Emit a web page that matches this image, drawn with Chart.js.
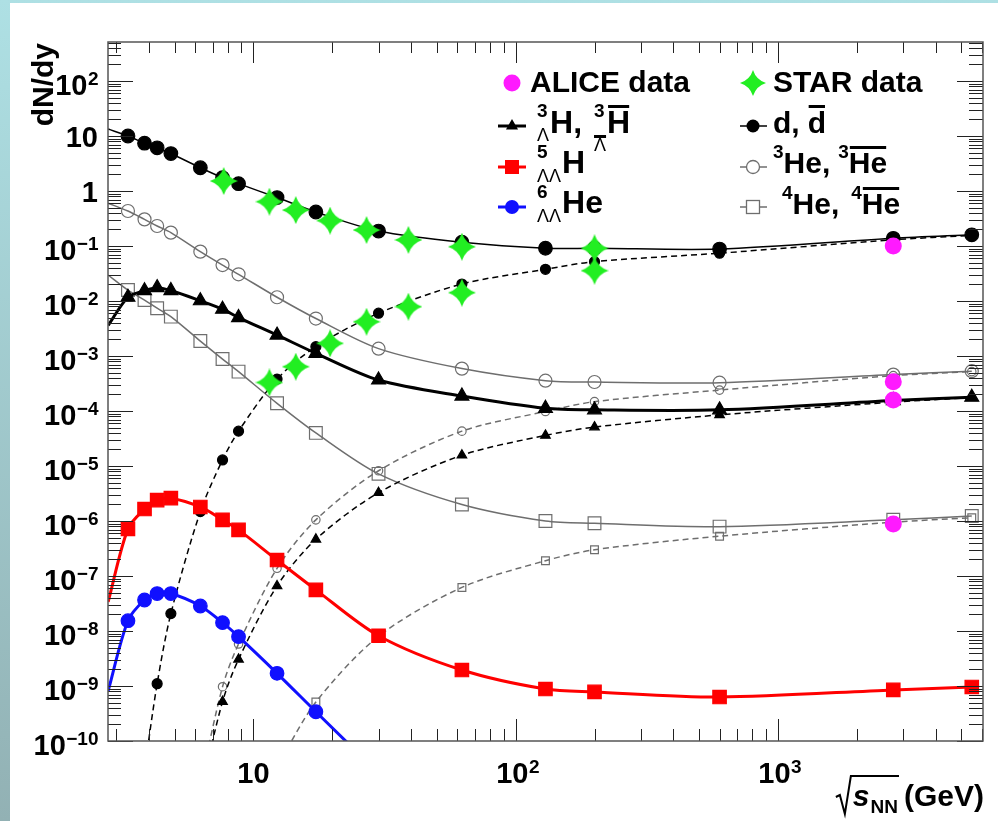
<!DOCTYPE html>
<html><head><meta charset="utf-8">
<script src="https://cdn.jsdelivr.net/npm/chart.js@4/dist/chart.umd.min.js"></script>
<style>
html,body{margin:0;padding:0;}
body{width:998px;height:821px;overflow:hidden;position:relative;background:linear-gradient(to bottom,#aee0e4,#92b1b4);}
#wrap{position:absolute;left:10px;top:3px;width:988px;height:818px;background:#fff;}
#c{position:absolute;left:0;top:0;}
</style></head>
<body><div id="wrap"></div><canvas id="c" width="998" height="821" style="width:998px;height:821px"></canvas>
<script>
// ---------------- data ----------------
const energies = [2.79, 3.32, 3.84, 4.29, 4.84, 6.27, 7.62, 8.77, 12.3, 17.3, 30, 62.4, 130, 200, 600, 2760, 5500];
const dYield      = [13.4, 10, 7.4, 6.1, 4.8, 2.65, 1.75, 1.36, 0.76, 0.415, 0.187, 0.117, 0.091, 0.091, 0.088, 0.138, 0.16];
const antiDYield  = [null, null, 3e-11, 1.1e-9, 2.07e-8, 1.48e-6, 1.29e-5, 4.3e-5, 3.8e-4, 1.48e-3, 6.0e-3, 0.0204, 0.0377, 0.052, 0.074, 0.13, 0.155];
const he3Yield    = [0.6, 0.433, 0.305, 0.231, 0.175, 0.079, 0.045, 0.0306, 0.0117, 4.8e-3, 1.36e-3, 5.9e-4, 3.56e-4, 3.37e-4, 3.27e-4, 4.6e-4, 5.3e-4];
const antiHe3Yield= [null, null, null, null, null, 1.6e-11, 9.7e-10, 5.8e-9, 1.38e-7, 1.05e-6, 8.2e-6, 4.3e-5, 9.8e-5, 1.48e-4, 2.4e-4, 4.4e-4, 5.2e-4];
const h3lYield    = [3.6e-3, 0.0117, 0.0154, 0.0175, 0.0155, 0.0101, 7.1e-3, 5.0e-3, 2.4e-3, 1.12e-3, 3.66e-4, 1.87e-4, 1.12e-4, 1.05e-4, 1.05e-4, 1.55e-4, 1.78e-4];
const antiH3lYield= [null, null, null, null, null, 1.1e-11, 5.2e-10, 3.05e-9, 6.6e-8, 4.65e-7, 3.27e-6, 1.57e-5, 3.6e-5, 5.1e-5, 8.5e-5, 1.45e-4, 1.75e-4];
const he4Yield    = [0.0297, 0.0158, 0.0104, 7.4e-3, 5.2e-3, 1.87e-3, 8.8e-4, 5.2e-4, 1.38e-4, 4.0e-5, 7.2e-6, 2.0e-6, 1.0e-6, 9.1e-7, 7.9e-7, 1.05e-6, 1.23e-6];
const antiHe4Yield= [null, null, null, null, null, null, null, null, 3.4e-11, 5.1e-10, 8e-9, 6.2e-8, 1.9e-7, 3.0e-7, 5.3e-7, 9.5e-7, 1.15e-6];
const h5llYield   = [3.4e-8, 7.2e-7, 1.65e-6, 2.4e-6, 2.6e-6, 1.8e-6, 1.05e-6, 6.9e-7, 1.95e-7, 5.6e-8, 8.2e-9, 1.95e-9, 8.8e-10, 7.8e-10, 6.3e-10, 8.5e-10, 9.6e-10];
const he6llYield  = [8.2e-10, 1.54e-8, 3.66e-8, 4.8e-8, 4.8e-8, 2.85e-8, 1.42e-8, 7.9e-9, 1.7e-9, 3.4e-10, 2.6e-11, null, null, null, null, null, null];

const starEnergies = [7.7, 11.5, 14.5, 19.6, 27, 39, 62.4, 200];
const starD        = [1.52, 0.64, 0.45, 0.29, 0.195, 0.129, 0.097, 0.091];
const starAntiD    = [null, 3.3e-4, 6.4e-4, 1.7e-3, 4.2e-3, 7.9e-3, 0.0142, 0.0356];

const aliceEnergies = [2760, 2760, 2760, 2760];
const aliceYield    = [0.1, 3.4e-4, 1.58e-4, 8.8e-7];

const xTickDecades = [1, 2, 3];
const yTickDecades = [2, 1, 0, -1, -2, -3, -4, -5, -6, -7, -8, -9, -10];

// ---------------- helpers ----------------
const FONT = '"Liberation Sans", Arial, Helvetica, sans-serif';
function pts(xs, ys){ const o=[]; xs.forEach((x,i)=>{ if(ys[i]!=null) o.push({x:x,y:ys[i]}); }); return o; }
function makeStar(size, color){
  const c=document.createElement('canvas'); c.width=c.height=size;
  const g=c.getContext('2d'); const r=size/2, k=r*0.24;
  g.beginPath();
  g.moveTo(r, 0);
  g.quadraticCurveTo(r+k, r-k, size, r);
  g.quadraticCurveTo(r+k, r+k, r, size);
  g.quadraticCurveTo(r-k, r+k, 0, r);
  g.quadraticCurveTo(r-k, r-k, r, 0);
  g.closePath(); g.fillStyle=color; g.fill();
  return c;
}
const starImg = makeStar(28, '#22ee22');
const starImgLeg = makeStar(26, '#22ee22');
const edgeR = (r)=> (c)=> (c.raw && c.raw.x <= energies[0]) ? 0 : r;
const GRAY = '#6e6e6e';

function ds(label, ys, o){
  return Object.assign({label, data: pts(energies, ys), showLine:true, clip:0, tension:0.3,
    borderWidth:1.5, pointBorderWidth:1.2}, o);
}

const datasets = [
  {label:'ALICE data', data: pts(aliceEnergies, aliceYield), showLine:false, clip:0, order:0,
   pointStyle:'circle', pointRadius:8.5, backgroundColor:'#ff1aff', borderColor:'#ff1aff', pointBorderWidth:0},
  {label:'STAR d', data: pts(starEnergies, starD), showLine:false, clip:0, order:1, pointStyle:starImg, pointRadius:14},
  {label:'STAR anti-d', data: pts(starEnergies, starAntiD), showLine:false, clip:0, order:1, pointStyle:starImg, pointRadius:14},
  ds('d', dYield, {order:3, borderColor:'#000', backgroundColor:'#000', pointRadius:edgeR(6.8), pointStyle:'circle'}),
  ds('anti-d', antiDYield, {order:4, borderColor:'#000', backgroundColor:'#000', borderDash:[6,4], pointRadius:5, pointStyle:'circle'}),
  ds('3He', he3Yield, {order:5, borderColor:GRAY, backgroundColor:'rgba(0,0,0,0)', pointBorderColor:GRAY, pointRadius:edgeR(6.5), pointStyle:'circle'}),
  ds('anti-3He', antiHe3Yield, {order:6, borderColor:GRAY, backgroundColor:'rgba(0,0,0,0)', pointBorderColor:GRAY, borderDash:[6,4], pointRadius:4.2, pointStyle:'circle'}),
  ds('H3L', h3lYield, {order:3, borderColor:'#000', backgroundColor:'#000', borderWidth:3, pointRadius:edgeR(8), pointStyle:'triangle'}),
  ds('anti-H3L', antiH3lYield, {order:4, borderColor:'#000', backgroundColor:'#000', borderDash:[6,4], pointRadius:5.5, pointStyle:'triangle'}),
  ds('4He', he4Yield, {order:5, borderColor:GRAY, backgroundColor:'rgba(0,0,0,0)', pointBorderColor:GRAY, pointRadius:edgeR(9), pointStyle:'rect'}),
  ds('anti-4He', antiHe4Yield, {order:6, borderColor:GRAY, backgroundColor:'rgba(0,0,0,0)', pointBorderColor:GRAY, borderDash:[6,4], pointRadius:5.5, pointStyle:'rect'}),
  ds('5LLH', h5llYield, {order:2, borderColor:'#ff0000', backgroundColor:'#ff0000', borderWidth:3, pointRadius:edgeR(9.5), pointStyle:'rect'}),
  ds('6LLHe', he6llYield, {order:2, borderColor:'#1010ff', backgroundColor:'#1010ff', borderWidth:3, pointRadius:edgeR(6.8), pointStyle:'circle'})
];

// ---------------- drawing helpers ----------------
function line(ctx,x1,y1,x2,y2){ ctx.beginPath(); ctx.moveTo(x1,y1); ctx.lineTo(x2,y2); ctx.stroke(); }
function powLabel(ctx, e, x, yb, align){
  let base, sup=null;
  if(e===0) base='1'; else if(e===1) base='10'; else { base='10'; sup = (e<0?'\u2212':'')+Math.abs(e); }
  ctx.font='bold 29px '+FONT; const wb=ctx.measureText(base).width;
  ctx.font='bold 19px '+FONT; const ws= sup? ctx.measureText(sup).width : 0;
  const w = wb+ws;
  let x0 = align==='right' ? x-w : x-w/2;
  ctx.textAlign='left'; ctx.textBaseline='alphabetic';
  ctx.font='bold 29px '+FONT; ctx.fillText(base, x0, yb);
  if(sup){ ctx.font='bold 19px '+FONT; ctx.fillText(sup, x0+wb+0.5, yb-10); }
}
function rich(ctx, x, yb, items){
  let cx=x;
  ctx.textAlign='left'; ctx.textBaseline='alphabetic'; ctx.fillStyle='#000'; ctx.strokeStyle='#000';
  for(const it of items){
    if(it.gap){ cx+=it.gap; continue; }
    if(it.sup!==undefined){
      ctx.font='bold 19px '+FONT; const w1=ctx.measureText(it.sup).width;
      ctx.fillText(it.sup, cx, yb-(it.supDy||17));
      ctx.font='18px '+FONT; const w2=ctx.measureText(it.sub).width;
      const sdy = it.subDy||8;
      ctx.fillText(it.sub, cx, yb+sdy);
      if(it.subOl){ ctx.fillRect(cx, yb+sdy-16, w2, 3); }
      cx += Math.max(w1,w2)+ (it.after||1);
      continue;
    }
    ctx.font=(it.italic?'italic ':'')+'bold '+(it.s||30)+'px '+FONT;
    const w=ctx.measureText(it.t).width;
    ctx.fillText(it.t, cx, yb+(it.dy||0));
    if(it.ol){ ctx.fillRect(cx+1, yb-(it.olH||27), w-2, 3); }
    cx+=w;
  }
  return cx;
}

const rootPlugin = {
  id:'rootStyle',
  afterDatasetsDraw(chart){
    const {ctx, chartArea:a, scales:{x,y}} = chart;
    ctx.save();
    ctx.strokeStyle='#222'; ctx.lineWidth=1;
    for(let e=0;e<=4;e++) for(let k=1;k<=9;k++){
      const v=k*Math.pow(10,e); if(v<x.min||v>x.max) continue;
      const px=Math.round(x.getPixelForValue(v))+0.5, maj=(k===1);
      line(ctx,px,a.bottom,px,a.bottom-(maj?22:12));
      line(ctx,px,a.top,px,a.top+(maj?21:11));
    }
    for(let e=-10;e<=2;e++) for(let k=1;k<=9;k++){
      const v=k*Math.pow(10,e); if(v<y.min*0.999||v>y.max) continue;
      const py=Math.round(y.getPixelForValue(v))+0.5, maj=(k===1);
      line(ctx,a.left,py,a.left+(maj?25:13),py);
      line(ctx,a.right,py,a.right-(maj?26:14),py);
    }
    ctx.strokeStyle='#555'; ctx.lineWidth=1.5;
    ctx.strokeRect(a.left,a.top,a.right-a.left,a.bottom-a.top);
    ctx.restore();
  },
  afterDraw(chart){
    const {ctx, chartArea:a, scales:{x,y}} = chart;
    ctx.save(); ctx.fillStyle='#000';
    yTickDecades.forEach(e=>{
      const py=y.getPixelForValue(Math.pow(10,e));
      powLabel(ctx, e, 98, py + (e===0||e===1 ? 11 : 13.5), 'right');
    });
    xTickDecades.forEach(e=>{
      const px=x.getPixelForValue(Math.pow(10,e));
      powLabel(ctx, e, px + (e===1?0:2), 783, 'center');
    });
    ctx.save(); ctx.translate(53, 43); ctx.rotate(-Math.PI/2);
    ctx.font='bold 30px '+FONT; ctx.textAlign='right'; ctx.textBaseline='alphabetic';
    ctx.fillText('dN/dy', 0, 0); ctx.restore();
    ctx.font='bold 30px '+FONT; const wG=ctx.measureText('(GeV)').width;
    ctx.font='bold 19px '+FONT; const wNN=ctx.measureText('NN').width;
    ctx.font='italic bold 30px '+FONT; const wS=ctx.measureText('s').width;
    const xb=806, xr=a.right+1;
    const xG = xr - wG, xNN = xG - 6 - wNN, xS = xNN - wS - 1, xR = xS - 14;
    ctx.textAlign='left';
    ctx.font='bold 30px '+FONT; ctx.fillText('(GeV)', xG, xb);
    ctx.font='bold 19px '+FONT; ctx.fillText('NN', xNN, xb+7);
    ctx.font='italic bold 30px '+FONT; ctx.fillText('s', xS, xb);
    ctx.strokeStyle='#000'; ctx.lineWidth=2; ctx.lineJoin='miter';
    ctx.beginPath(); ctx.moveTo(xR-3, xb-9); ctx.lineTo(xR+1, xb-11); ctx.lineTo(xR+6, xb+8);
    ctx.lineTo(xR+12, xb-30); ctx.lineTo(xNN+wNN+1, xb-30); ctx.stroke();
    drawLegend(ctx);
    ctx.restore();
  }
};

function legLine(ctx, x1, x2, yy, color, w){ ctx.strokeStyle=color; ctx.lineWidth=w; ctx.setLineDash([]); line(ctx,x1,yy,x2,yy); }
function drawLegend(ctx){
  ctx.fillStyle='#ff1aff'; ctx.beginPath(); ctx.arc(512,83,8.5,0,2*Math.PI); ctx.fill();
  ctx.fillStyle='#000'; ctx.font='bold 30px '+FONT; ctx.textAlign='left'; ctx.fillText('ALICE data', 530, 92);

  legLine(ctx,498,526,126,'#000',3);
  ctx.fillStyle='#000'; tri(ctx,512,126,7);
  rich(ctx, 537, 133, [{sup:'3', sub:'\u039B', supDy:16, subDy:8}, {t:'H,', s:32}, {gap:12}, {sup:'3', sub:'\u039B', supDy:16, subDy:18, subOl:true}, {t:'H', s:32, ol:true, olH:28}]);

  legLine(ctx,498,526,167,'#ff0000',3);
  ctx.fillStyle='#ff0000'; ctx.fillRect(505,160,14,14);
  rich(ctx, 537, 173, [{sup:'5', sub:'\u039B\u039B', supDy:15, subDy:9}, {t:'H', s:32}]);

  legLine(ctx,498,526,207,'#1010ff',3);
  ctx.fillStyle='#1010ff'; ctx.beginPath(); ctx.arc(512,207,7,0,2*Math.PI); ctx.fill();
  rich(ctx, 537, 213, [{sup:'6', sub:'\u039B\u039B', supDy:15, subDy:9}, {t:'He', s:32}]);

  ctx.drawImage(starImgLeg, 753-13, 83-13);
  ctx.fillStyle='#000'; ctx.font='bold 30px '+FONT; ctx.fillText('STAR data', 773, 92);

  legLine(ctx,740,767,126,'#000',1.5);
  ctx.fillStyle='#000'; ctx.beginPath(); ctx.arc(753,126,6.5,0,2*Math.PI); ctx.fill();
  rich(ctx, 773, 133, [{t:'d,'}, {gap:8}, {t:'d', ol:true, olH:28}]);

  legLine(ctx,740,767,167,GRAY,1.5);
  ctx.fillStyle='#fff'; ctx.strokeStyle=GRAY; ctx.lineWidth=1.3; ctx.beginPath(); ctx.arc(753,167,6.5,0,2*Math.PI); ctx.fill(); ctx.stroke();
  rich(ctx, 773, 173, [{t:'3', s:19, dy:-15}, {t:'He,'}, {gap:8}, {t:'3', s:19, dy:-15}, {t:'He', ol:true, olH:27}]);

  legLine(ctx,740,767,207,GRAY,1.5);
  ctx.fillStyle='#fff'; ctx.strokeStyle=GRAY; ctx.lineWidth=1.3; ctx.fillRect(746.5,200.5,13,13); ctx.strokeRect(746.5,200.5,13,13);
  rich(ctx, 782, 214, [{t:'4', s:19, dy:-15}, {t:'He,'}, {gap:12}, {t:'4', s:19, dy:-15}, {t:'He', ol:true, olH:27}]);
}
function tri(ctx,x,y,r){ ctx.beginPath(); ctx.moveTo(x,y-r); ctx.lineTo(x+r*0.866,y+r*0.5); ctx.lineTo(x-r*0.866,y+r*0.5); ctx.closePath(); ctx.fill(); }

new Chart(document.getElementById('c'), {
  type:'scatter',
  data:{datasets},
  options:{
    responsive:false, animation:false, devicePixelRatio:1,
    layout:{padding:{left:108, right:12, top:42, bottom:80}},
    scales:{
      x:{type:'logarithmic', min:2.786, max:6070, display:false},
      y:{type:'logarithmic', min:1e-10, max:512, display:false}
    },
    plugins:{legend:{display:false}, tooltip:{enabled:false}}
  },
  plugins:[rootPlugin]
});
</script>
</body></html>
